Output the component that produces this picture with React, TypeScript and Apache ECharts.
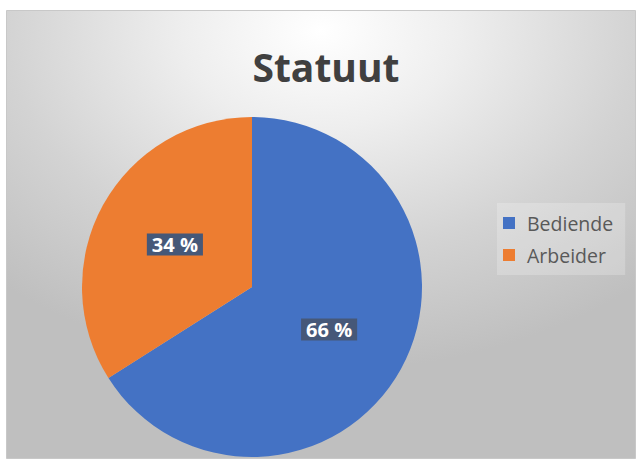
import React, { useEffect, useRef } from "react";
import * as echarts from "echarts";

const titleText = "Statuut";
const categories = ["Bediende", "Arbeider"];
const values = [66, 34];
const colors = ["#4472C4", "#ED7D31"];

export default function App() {
  const ref = useRef<HTMLDivElement>(null);
  useEffect(() => {
    if (!ref.current) return;
    const chart = echarts.init(ref.current, null, { renderer: "svg" });
    chart.setOption({
      animation: false,
      backgroundColor: "#ffffff",
      graphic: [
        {
          type: "rect",
          z: -10,
          silent: true,
          shape: { x: 6.5, y: 10.5, width: 629, height: 448 },
          style: {
            fill: {
              type: "radial",
              x: 0.5,
              y: 0.045,
              r: 1,
              colorStops: [
                { offset: 0, color: "#ffffff" },
                { offset: 0.22, color: "#eeeeee" },
                { offset: 0.5, color: "#d3d3d3" },
                { offset: 0.76, color: "#bfbfbf" },
                { offset: 1, color: "#bfbfbf" },
              ],
            },
            stroke: "#c8c8c8",
            lineWidth: 1,
          },
        },
      ],
      title: {
        text: titleText,
        left: 321,
        textAlign: "center",
        top: 42,
        textStyle: {
          fontFamily: "Open Sans",
          fontWeight: "bold",
          fontSize: 39,
          color: "#404040",
        },
      },
      legend: {
        orient: "vertical",
        left: 497,
        top: 203,
        padding: [10, 12, 10, 6],
        backgroundColor: "rgba(255,255,255,0.22)",
        itemWidth: 12,
        itemHeight: 12,
        itemGap: 12,
        icon: "rect",
        data: categories,
        textStyle: {
          fontFamily: "Open Sans",
          fontSize: 19.5,
          lineHeight: 20,
          color: "#595959",
          padding: [0, 0, 0, 7],
        },
      },
      series: [
        {
          type: "pie",
          center: [252, 287],
          radius: 170,
          startAngle: 90,
          clockwise: true,
          color: colors,
          data: categories.map((c, i) => ({ name: c, value: values[i] })),
          label: {
            show: true,
            position: "inside",
            formatter: "{c} %",
            fontFamily: "Open Sans",
            fontWeight: "bold",
            fontSize: 20,
            color: "#ffffff",
            backgroundColor: "#465878",
            padding: [2, 5, 0, 5],
          },
          labelLine: { show: false },
          emphasis: { disabled: true },
        },
      ],
    });
    return () => chart.dispose();
  }, []);
  return (
    <div
      style={{ position: "absolute", left: 0, top: 0, width: 636, height: 459 }}
    >
      <div ref={ref} style={{ width: 636, height: 459 }} />
    </div>
  );
}
